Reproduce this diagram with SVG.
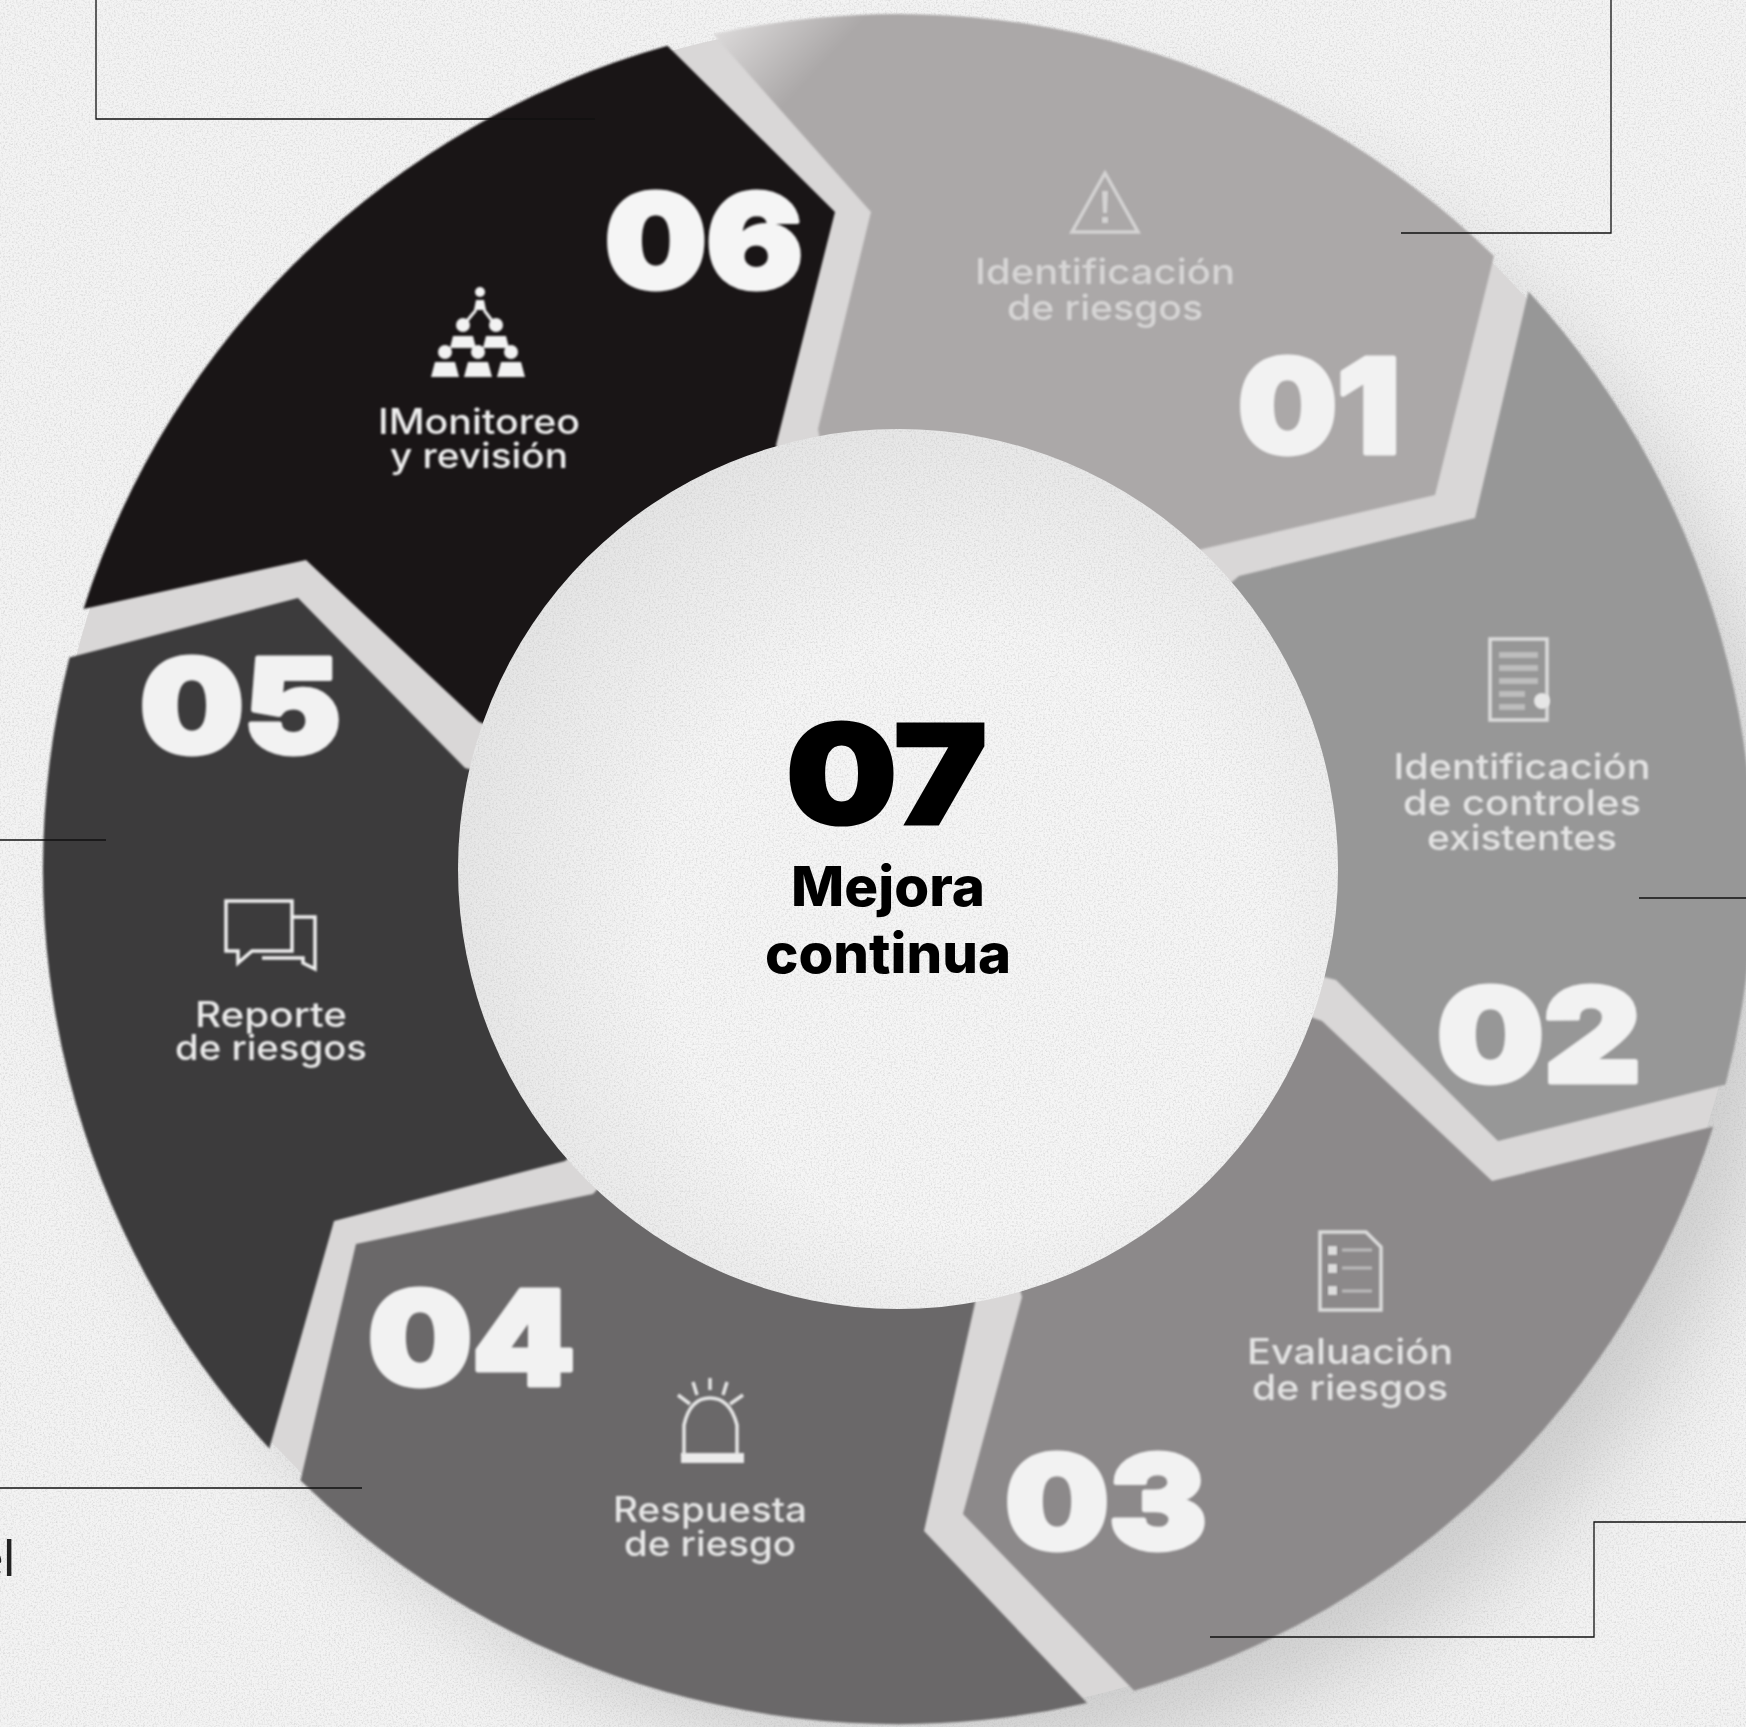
<svg xmlns="http://www.w3.org/2000/svg" width="1746" height="1727" viewBox="0 0 1746 1727">
<defs>
<style>
.num{font-family:Inter,"Liberation Sans",sans-serif;font-weight:900;font-size:130px;text-anchor:start;stroke-width:5;stroke-linejoin:round;filter:url(#soft)}
.lab{font-family:Inter,"Liberation Sans",sans-serif;font-weight:500;font-size:35px;text-anchor:middle;filter:url(#soft)}
.ico{fill:none;stroke-width:3.5;filter:url(#soft)}
.seg{filter:url(#edge)}
.line{fill:none;stroke:#111;stroke-width:1.3}
.ctr{font-family:Inter,"Liberation Sans",sans-serif;fill:#000;text-anchor:start}
</style>
<filter id="soft" x="-10%" y="-20%" width="120%" height="140%" color-interpolation-filters="sRGB"><feGaussianBlur stdDeviation="1.1"/></filter>
<filter id="edge" x="-2%" y="-2%" width="104%" height="104%" color-interpolation-filters="sRGB"><feGaussianBlur stdDeviation="1"/></filter>
<filter id="shadow" x="-20%" y="-20%" width="140%" height="140%" color-interpolation-filters="sRGB"><feGaussianBlur stdDeviation="45"/></filter>
<filter id="noise" x="0" y="0" width="100%" height="100%"><feTurbulence type="fractalNoise" baseFrequency="0.55" numOctaves="2" seed="4"/><feColorMatrix values="0 0 0 0 0.45  0 0 0 0 0.45  0 0 0 0 0.45  0.9 0 0 0 -0.4"/></filter>
<radialGradient id="core" gradientUnits="userSpaceOnUse" cx="960" cy="930" r="600"><stop offset="0.5" stop-color="#f5f5f5"/><stop offset="1" stop-color="#e0e0e0"/></radialGradient>
<linearGradient id="one" gradientUnits="userSpaceOnUse" x1="715" y1="40" x2="785" y2="105"><stop offset="0" stop-color="#d9d7d7"/><stop offset="1" stop-color="#aba8a8"/></linearGradient>
<clipPath id="ccore"><circle cx="898" cy="869" r="440"/></clipPath>
</defs>
<rect width="1746" height="1727" fill="#f3f3f3"/>
<circle cx="955" cy="930" r="835" fill="#cdcdcd" filter="url(#shadow)"/>
<rect width="1746" height="1727" filter="url(#noise)"/>
<circle cx="898" cy="869" r="849" fill="#d9d7d7"/>

<g id="node-01">
<path class="seg" d="M713.3 34.2A855 855 0 0 1 1494 256L1435 495L1198 550L898 869L818 429L871 212Z" fill="url(#one)"/>
<path class="ico" stroke="#d4d3d3" d="M1105 173L1138 232H1072Z"/><path d="M1102 191h6l-1 22h-4ZM1102 217h6v6h-6Z" fill="#d4d3d3" filter="url(#soft)"/>
<text class="lab" x="1105" y="284" fill="#d6d5d5" textLength="260" lengthAdjust="spacingAndGlyphs">Identificación</text>
<text class="lab" x="1105" y="320" fill="#d6d5d5" textLength="196" lengthAdjust="spacingAndGlyphs">de riesgos</text>
<text class="num" x="1238" y="453" fill="#f2f2f2" stroke="#f2f2f2" textLength="162" lengthAdjust="spacingAndGlyphs">01</text>
</g>
<g id="node-02">
<path class="seg" d="M1528.5 291.5A855 855 0 0 1 1725.5 1084.4L1498 1141L1336 980L898 869L1239 576L1475 518Z" fill="#979797"/>
<rect class="ico" stroke="#dcdcdc" x="1490" y="639" width="57" height="81"/>
<path d="M1499 655h39M1499 668h39M1499 681h39M1499 694h26M1499 707h26" stroke="#bdbdbd" stroke-width="6" fill="none" filter="url(#soft)"/>
<circle cx="1542" cy="701" r="8" fill="#e6e6e6" filter="url(#soft)"/>
<text class="lab" x="1522" y="779" fill="#e3e3e3" textLength="257" lengthAdjust="spacingAndGlyphs">Identificación</text>
<text class="lab" x="1522" y="815" fill="#e3e3e3" textLength="238" lengthAdjust="spacingAndGlyphs">de controles</text>
<text class="lab" x="1522" y="850" fill="#e3e3e3" textLength="190" lengthAdjust="spacingAndGlyphs">existentes</text>
<text class="num" x="1437" y="1082" fill="#f2f2f2" stroke="#f2f2f2" textLength="204" lengthAdjust="spacingAndGlyphs">02</text>
</g>
<g id="node-03">
<path class="seg" d="M1022 1297L898 869L1322 1021L1492 1181L1713.3 1126.5A855 855 0 0 1 1134.2 1690.8L963 1514Z" fill="#8c898a"/>
<path class="ico" stroke="#dcdcdc" d="M1320 1232H1366L1381 1247V1310H1320Z"/>
<path d="M1328 1246h9v9h-9ZM1328 1264h9v9h-9ZM1328 1286h9v9h-9Z" fill="#dcdcdc" filter="url(#soft)"/>
<path d="M1342 1250h30M1342 1268h30M1342 1291h30" stroke="#bcbcbc" stroke-width="3" fill="none" filter="url(#soft)"/>
<text class="lab" x="1350" y="1364" fill="#e3e3e3" textLength="206" lengthAdjust="spacingAndGlyphs">Evaluación</text>
<text class="lab" x="1350" y="1400" fill="#e3e3e3" textLength="196" lengthAdjust="spacingAndGlyphs">de riesgos</text>
<text class="num" x="1005" y="1549" fill="#f2f2f2" stroke="#f2f2f2" textLength="202" lengthAdjust="spacingAndGlyphs">03</text>
</g>
<g id="node-04">
<path class="seg" d="M300.5 1480.6A855 855 0 0 0 1087 1703L924 1531L975 1303L898 869L593 1194L356 1244Z" fill="#6a6869"/>
<path class="ico" stroke="#e6e6e6" d="M684 1455V1425Q690 1398 710 1398Q730 1398 737 1425V1455M678 1395L690 1404M693 1382L697 1395M710 1378V1390M727 1382L723 1395M743 1395L730 1404"/>
<rect x="681" y="1453" width="63" height="10" fill="#ebebeb" filter="url(#soft)"/>
<text class="lab" x="710" y="1522" fill="#e6e6e6" textLength="194" lengthAdjust="spacingAndGlyphs">Respuesta</text>
<text class="lab" x="710" y="1556" fill="#e6e6e6" textLength="172" lengthAdjust="spacingAndGlyphs">de riesgo</text>
<text class="num" x="368" y="1385" fill="#f2f2f2" stroke="#f2f2f2" textLength="207" lengthAdjust="spacingAndGlyphs">04</text>
</g>
<g id="node-05">
<path class="seg" d="M69.5 657.6A855 855 0 0 0 269.3 1448.4L334 1221L565 1161L898 869L465 768L298 598Z" fill="#3c3b3c"/>
<path class="ico" stroke="#f0f0f0" d="M226 901H292V951H252L238 963V951H226ZM292 917H315V969L303 963V958H262"/>
<text class="lab" x="271" y="1027" fill="#eaeaea" textLength="152" lengthAdjust="spacingAndGlyphs">Reporte</text>
<text class="lab" x="271" y="1060" fill="#eaeaea" textLength="192" lengthAdjust="spacingAndGlyphs">de riesgos</text>
<text class="num" x="140" y="753" fill="#f2f2f2" stroke="#f2f2f2" textLength="201" lengthAdjust="spacingAndGlyphs">05</text>
</g>
<g id="node-06">
<path class="seg" d="M83.5 609A855 855 0 0 1 667.4 45.7L835 212L776 445L898 869L479 722L306 560Z" fill="#191516"/>
<g fill="#f2f2f2" filter="url(#soft)">
<circle cx="480" cy="292" r="5"/><path d="M476 300h8l2 10h-12Z"/>
<circle cx="463" cy="325" r="7"/><path d="M453 336h20l3 12h-26Z"/>
<circle cx="496" cy="325" r="7"/><path d="M486 336h20l3 12h-26Z"/>
<circle cx="445" cy="352" r="7"/><path d="M435 362h20l4 15h-28Z"/>
<circle cx="478" cy="352" r="7"/><path d="M468 362h20l4 15h-28Z"/>
<circle cx="511" cy="352" r="7"/><path d="M501 362h20l4 15h-28Z"/>
<path d="M476 310L466 322M484 310L493 322" stroke="#f2f2f2" stroke-width="3"/>
</g>
<text class="lab" x="479" y="434" fill="#efefef" textLength="202" lengthAdjust="spacingAndGlyphs">IMonitoreo</text>
<text class="lab" x="479" y="468" fill="#efefef" textLength="178" lengthAdjust="spacingAndGlyphs">y revisión</text>
<text class="num" x="605" y="288" fill="#f5f5f5" stroke="#f5f5f5" textLength="198" lengthAdjust="spacingAndGlyphs">06</text>
</g>
<g id="node-07">
<circle cx="898" cy="869" r="440" fill="url(#core)"/>
<rect x="450" y="420" width="900" height="900" clip-path="url(#ccore)" filter="url(#noise)"/>
<text class="ctr" x="786" y="824" font-size="138" font-weight="900" textLength="201" lengthAdjust="spacingAndGlyphs" stroke="#000" stroke-width="3">07</text>
<text class="ctr" x="791" y="906" font-size="55" font-weight="800" textLength="194" lengthAdjust="spacingAndGlyphs">Mejora</text>
<text class="ctr" x="765" y="973" font-size="55" font-weight="800" textLength="246" lengthAdjust="spacingAndGlyphs">continua</text>
</g>
<g id="connectors">
<path class="line" d="M96 0V119H595"/>
<path class="line" d="M1611 0V233H1401"/>
<path class="line" d="M0 840H106"/>
<path class="line" d="M1639 898H1746"/>
<path class="line" d="M0 1488H362"/>
<path class="line" d="M1210 1637H1594V1522H1746"/>
</g>
<text x="15" y="1576" text-anchor="end" font-family="Lato,'Open Sans',sans-serif" font-size="50" fill="#222">el</text>
</svg>
